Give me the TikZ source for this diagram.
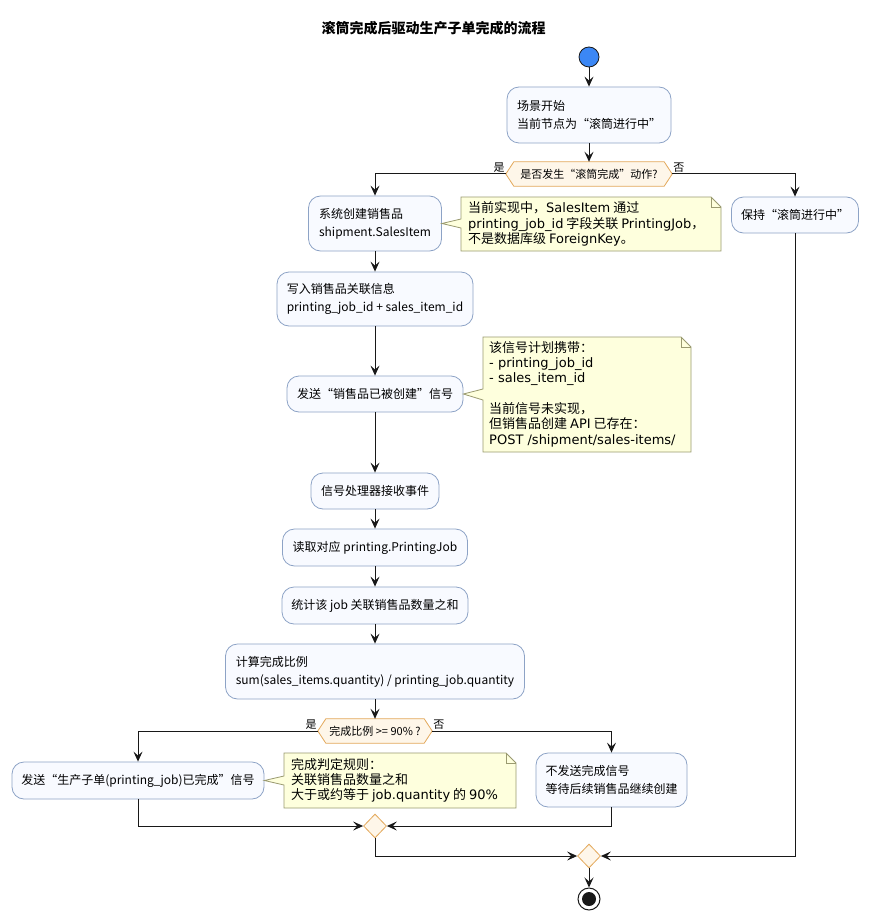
\documentclass[tikz,border=0pt]{standalone}
\usepackage{fontspec}
\setmainfont{Noto Sans CJK SC}
\newfontfamily\djv{DejaVu Sans}
\usetikzlibrary{arrows.meta,shapes.geometric}
\definecolor{boxfill}{HTML}{F8FAFF}
\definecolor{boxline}{HTML}{8DA3C6}
\definecolor{notefill}{HTML}{FEFFDD}
\definecolor{noteline}{HTML}{9A9A70}
\definecolor{decfill}{HTML}{FEF6E9}
\definecolor{decline}{HTML}{E3A85A}
\definecolor{startfill}{HTML}{3B87F5}
\definecolor{ink}{HTML}{181818}
\pgfdeclarelayer{bg}
\pgfsetlayers{bg,main}
\begin{document}
\begin{tikzpicture}[x=1pt,y=-1pt,
  act/.style={rectangle, rounded corners=12pt, draw=boxline, fill=boxfill, line width=0.8pt,
    align=left, font=\fontsize{12}{18}\selectfont, inner sep=0pt},
  dect/.style={rectangle, draw=none, inner sep=0pt, font=\fontsize{11}{13}\selectfont},
  decshape/.style={draw=decline, fill=decfill, line width=0.8pt},
  merge/.style={diamond, draw=decline, fill=decfill, line width=0.8pt, inner sep=0pt,
    minimum width=23pt, minimum height=24pt},
  notetext/.style={anchor=west, inner sep=0pt, align=left, font=\fontsize{13}{15.3}\selectfont},
  noteshape/.style={draw=noteline, fill=notefill, line width=0.8pt},
  lbl/.style={inner sep=1pt, font=\fontsize{11}{13}\selectfont},
  flow/.style={draw=ink, line width=1pt, -{Stealth[length=10pt,width=9pt,inset=4pt]}},
  plain/.style={draw=ink, line width=1pt}]
\useasboundingbox (0,0) rectangle (868,920);

% title
\node[font=\bfseries\fontsize{14}{16}\selectfont] (title) at (433.5,28) {滚筒完成后驱动生产子单完成的流程};

% start
\node[circle, fill=startfill, draw=ink, line width=0.8pt, minimum size=20pt, inner sep=0pt] (st) at (589,57) {};

% activities
\node[act, minimum width=164pt, minimum height=56pt] (b1) at (589,115) {场景开始\\当前节点为“滚筒进行中”};
\node[dect, minimum width=166pt, minimum height=24pt] (d1) at (589,174) {是否发生“滚筒完成”动作?};
\node[act, minimum width=133pt, minimum height=55pt] (b2) at (375,223.5) {系统创建销售品\\shipment.SalesItem};
\node[act, minimum width=127pt, minimum height=36pt] (keep) at (795,215) {保持“滚筒进行中”};
\node[act, minimum width=196pt, minimum height=54pt] (b3) at (375,299) {写入销售品关联信息\\printing\_job\_id + sales\_item\_id};
\node[act, minimum width=176pt, minimum height=36pt] (b4) at (375,394) {发送“销售品已被创建”信号};
\node[act, minimum width=128pt, minimum height=36pt] (b5) at (375,491) {信号处理器接收事件};
\node[act, minimum width=185pt, minimum height=37pt] (b6) at (375,547.5) {读取对应 printing.PrintingJob};
\node[act, minimum width=186pt, minimum height=37pt] (b7) at (375,605.5) {统计该 job 关联销售品数量之和};
\node[act, minimum width=299pt, minimum height=55pt] (b8) at (375,671.5) {计算完成比例\\sum(sales\_items.quantity) / printing\_job.quantity};
\node[dect, minimum width=114pt, minimum height=24pt] (d2) at (375,731) {完成比例 >= 90\% ?};
\node[act, minimum width=252pt, minimum height=37pt] (b9) at (138,780.5) {发送“生产子单(printing\_job)已完成”信号};
\node[act, minimum width=151pt, minimum height=54pt] (b10) at (611.5,780) {不发送完成信号\\等待后续销售品继续创建};
\node[merge] (m1) at (375,826) {};
\node[merge] (m2) at (589,856) {};
\node[circle, draw=ink, fill=white, line width=1pt, minimum size=22pt, inner sep=0pt] (en) at (589,899) {};
\node[circle, fill=ink, minimum size=14pt, inner sep=0pt] (endot) at (en) {};

% background and decision hexagons
\begin{pgfonlayer}{bg}
\fill[white] (0,0) rectangle (868,920);
\draw[decshape] (d1.west) -- ([xshift=8pt]d1.north west) -- ([xshift=-8pt]d1.north east) -- (d1.east)
  -- ([xshift=-8pt]d1.south east) -- ([xshift=8pt]d1.south west) -- cycle;
\draw[decshape] (d2.west) -- ([xshift=8pt]d2.north west) -- ([xshift=-8pt]d2.north east) -- (d2.east)
  -- ([xshift=-8pt]d2.south east) -- ([xshift=8pt]d2.south west) -- cycle;
\end{pgfonlayer}

% branch labels
\node[lbl, anchor=south east] (y1) at (d1.west) {是};
\node[lbl, anchor=south west] (n1l) at (d1.east) {否};
\node[lbl, anchor=south east] (y2) at (d2.west) {是};
\node[lbl, anchor=south west] (n2l) at (d2.east) {否};

% notes
\draw[noteshape] (461,197) -- (711,197) -- (721,207) -- (721,251) -- (461,251) -- (461,228)
  -- (b2.east) -- (461,219) -- cycle;
\draw[draw=noteline, line width=0.8pt] (711,197) -- (711,207) -- (721,207);
\node[notetext] (nt1) at (468,224) {当前实现中，{\djv SalesItem} 通过\\{\djv printing\_job\_id} 字段关联 {\djv PrintingJob}，\\不是数据库级 {\djv ForeignKey}。};

\draw[noteshape] (483,337) -- (681,337) -- (691,347) -- (691,452) -- (483,452) -- (483,400)
  -- (b4.east) -- (483,389) -- cycle;
\draw[draw=noteline, line width=0.8pt] (681,337) -- (681,347) -- (691,347);
\node[notetext] (nt2) at (489,394) {该信号计划携带：\\{\djv - printing\_job\_id}\\{\djv - sales\_item\_id}\\[15.3pt]当前信号未实现，\\但销售品创建 {\djv API} 已存在：\\{\djv POST /shipment/sales-items/}};

\draw[noteshape] (284,753) -- (506,753) -- (516,763) -- (516,808) -- (284,808) -- (284,785)
  -- (b9.east) -- (284,776) -- cycle;
\draw[draw=noteline, line width=0.8pt] (506,753) -- (506,763) -- (516,763);
\node[notetext] (nt3) at (291,780.5) {完成判定规则：\\关联销售品数量之和\\大于或约等于 {\djv job.quantity} 的 {\djv 90\%}};

% connectors
\draw[flow] (st) -- (b1);
\draw[flow] (b1) -- (d1);
\draw[flow] (d1.west) -| (b2.north);
\draw[flow] (d1.east) -| (keep.north);
\draw[flow] (b2) -- (b3);
\draw[flow] (b3) -- (b4);
\draw[flow] (b4) -- (b5);
\draw[flow] (b5) -- (b6);
\draw[flow] (b6) -- (b7);
\draw[flow] (b7) -- (b8);
\draw[flow] (b8) -- (d2);
\draw[flow] (d2.west) -| (b9.north);
\draw[flow] (d2.east) -| (b10.north);
\draw[flow] (b9.south) |- (m1.west);
\draw[flow] (b10.south) |- (m1.east);
\draw[flow] (m1.south) |- (m2.west);
\draw[flow] (keep.south) |- (m2.east);
\draw[flow] (m2) -- (en);
\end{tikzpicture}
\end{document}
